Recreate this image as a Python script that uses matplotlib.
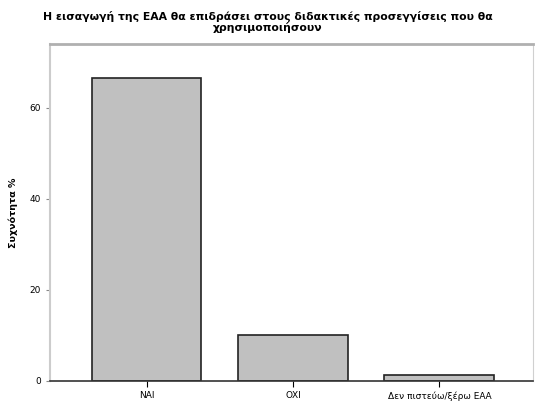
import matplotlib
matplotlib.use("Agg")
import matplotlib.pyplot as plt

# Δεδομένα
categories = ["ΝΑΙ", "ΟΧΙ", "Δεν πιστεύω/ξέρω ΕΑΑ"]
percent = [66.6, 10.1, 1.3]
yticks = [0, 20, 40, 60]

fig = plt.figure(figsize=(5.35, 4.01), dpi=100)
ax = fig.add_axes([50 / 535, 1 - 381 / 401, 483 / 535, 337 / 401])

x = range(len(categories))
ax.bar(x, percent, width=0.75, color="#c0c0c0", edgecolor="#222222", linewidth=1.2)

ax.set_xlim(-0.66, 2.64)
ax.set_ylim(0, 74)
ax.set_xticks(list(x))
ax.set_xticklabels(categories, fontsize=6.5)
ax.set_yticks(yticks)
ax.tick_params(axis="y", labelsize=6.5, length=3, color="#888888")
ax.tick_params(axis="x", length=4)
ax.set_ylabel("Συχνότητα %", fontsize=6.8, labelpad=8, fontweight="bold")

ax.spines["top"].set_color("#b0b0b0")
ax.spines["top"].set_linewidth(2)
ax.spines["left"].set_color("#cccccc")
ax.spines["left"].set_linewidth(1.5)
ax.spines["right"].set_color("#d0d0d0")
ax.spines["right"].set_linewidth(0.8)
ax.spines["bottom"].set_color("#333333")
ax.spines["bottom"].set_linewidth(1.2)

fig.text(0.5, 0.945, "Η εισαγωγή της ΕΑΑ θα επιδράσει στους διδακτικές προσεγγίσεις που θα\nχρησιμοποιήσουν",
         ha="center", va="center", fontsize=7.8, fontweight="bold", linespacing=0.95)

fig.savefig("out.png", dpi=100)
